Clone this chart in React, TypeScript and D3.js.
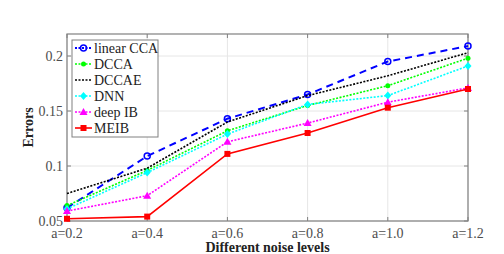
import React from 'react';
import * as d3 from 'd3';

const noiseLevels = ['a=0.2', 'a=0.4', 'a=0.6', 'a=0.8', 'a=1.0', 'a=1.2'];
const linearCCA = [0.062, 0.109, 0.143, 0.165, 0.195, 0.209];
const dcca = [0.064, 0.096, 0.132, 0.155, 0.173, 0.198];
const dccae = [0.075, 0.098, 0.140, 0.164, 0.182, 0.203];
const dnn = [0.061, 0.094, 0.129, 0.156, 0.164, 0.191];
const deepIB = [0.059, 0.073, 0.122, 0.139, 0.158, 0.171];
const meib = [0.052, 0.054, 0.111, 0.130, 0.153, 0.170];
const yTicks = [0.05, 0.1, 0.15, 0.2];

type Series = {
  name: string;
  values: number[];
  color: string;
  dash: string;
  width: number;
  marker: string;
};

const series: Series[] = [
  { name: 'linear CCA', values: linearCCA, color: '#0000ff', dash: '7,5', width: 2, marker: 'circle' },
  { name: 'DCCA', values: dcca, color: '#00ff00', dash: '2,1.5', width: 1.6, marker: 'dot' },
  { name: 'DCCAE', values: dccae, color: '#000000', dash: '2,1.5', width: 1.6, marker: 'none' },
  { name: 'DNN', values: dnn, color: '#00ffff', dash: '2,1.5', width: 1.6, marker: 'diamond' },
  { name: 'deep IB', values: deepIB, color: '#ff00ff', dash: '2,1.5', width: 1.6, marker: 'triangle' },
  { name: 'MEIB', values: meib, color: '#ff0000', dash: '', width: 1.6, marker: 'square' },
];

const W = 504, H = 254;
const left = 67, right = 468, top = 34, bottom = 221;
const serif = { fontFamily: "'Liberation Serif', 'Times New Roman', Times, serif" };

function Marker({ type, x, y, color }: { type: string; x: number; y: number; color: string }) {
  if (type === 'circle') return <circle cx={x} cy={y} r={3} fill="none" stroke={color} strokeWidth={1.5} />;
  if (type === 'dot') return <circle cx={x} cy={y} r={2.5} fill={color} />;
  if (type === 'diamond')
    return <path d={`M${x},${y - 4}L${x + 3.5},${y}L${x},${y + 4}L${x - 3.5},${y}Z`} fill={color} />;
  if (type === 'triangle')
    return <path d={`M${x},${y - 4}L${x + 4},${y + 3}L${x - 4},${y + 3}Z`} fill={color} />;
  if (type === 'square') return <rect x={x - 3} y={y - 3} width={6} height={6} fill={color} />;
  return null;
}

export default function App() {
  const x = d3.scalePoint<string>().domain(noiseLevels).range([left, right]);
  const y = d3.scaleLinear().domain([0.05, 0.22]).range([bottom, top]);
  const line = (vals: number[]) =>
    d3.line<number>().x((_, i) => x(noiseLevels[i])!).y(d => y(d))(vals) || '';

  const legX = 72, legY = 40, legRow = 16;

  return (
    <svg width={W} height={H} style={{ position: 'absolute', left: 0, top: 0, ...serif }}>
      <rect x={0} y={0} width={W} height={H} fill="#fff" />
      {/* grid */}
      {noiseLevels.map(n => (
        <line key={n} x1={x(n)} x2={x(n)} y1={top} y2={bottom} stroke="#e6e6e6" strokeWidth={1} />
      ))}
      {yTicks.map(t => (
        <line key={t} x1={left} x2={right} y1={y(t)} y2={y(t)} stroke="#e6e6e6" strokeWidth={1} />
      ))}
      {/* box */}
      <rect x={left} y={top} width={right - left} height={bottom - top} fill="none" stroke="#808080" strokeWidth={1.2} />
      {noiseLevels.map(n => (
        <g key={'t' + n}>
          <line x1={x(n)} x2={x(n)} y1={bottom} y2={bottom - 4} stroke="#808080" />
          <line x1={x(n)} x2={x(n)} y1={top} y2={top + 4} stroke="#808080" />
          <text x={x(n)} y={238} textAnchor="middle" style={serif} fontSize={14} fill="#4d4d4d">{n}</text>
        </g>
      ))}
      {yTicks.map(t => (
        <g key={'y' + t}>
          <line x1={left} x2={left + 4} y1={y(t)} y2={y(t)} stroke="#808080" />
          <line x1={right} x2={right - 4} y1={y(t)} y2={y(t)} stroke="#808080" />
          <text x={left - 4} y={y(t) + 5} textAnchor="end" style={serif} fontSize={14} fill="#4d4d4d">{t}</text>
        </g>
      ))}
      {/* series */}
      {series.map(s => (
        <g key={s.name}>
          <path d={line(s.values)} fill="none" stroke={s.color} strokeWidth={s.width} strokeDasharray={s.dash} />
          {s.values.map((v, i) => (
            <Marker key={i} type={s.marker} x={x(noiseLevels[i])!} y={y(v)} color={s.color} />
          ))}
        </g>
      ))}
      {/* legend */}
      <rect x={legX} y={legY} width={86} height={97} fill="#fff" stroke="#808080" strokeWidth={1} />
      {series.map((s, i) => {
        const cy = legY + 8 + i * legRow;
        return (
          <g key={'l' + s.name}>
            <line x1={legX + 3} x2={legX + 20} y1={cy} y2={cy} stroke={s.color} strokeWidth={s.width} strokeDasharray={s.dash ? '2,1.5' : ''} />
            <Marker type={s.marker} x={legX + 11.5} y={cy} color={s.color} />
            <text x={legX + 22} y={cy + 5} style={serif} fontSize={14} fill="#222">{s.name}</text>
          </g>
        );
      })}
      {/* axis labels */}
      <text x={(left + right) / 2} y={252} textAnchor="middle" style={serif} fontSize={14} fontWeight="bold" fill="#222">
        Different noise levels
      </text>
      <text transform={`translate(33,${(top + bottom) / 2}) rotate(-90)`} textAnchor="middle" style={serif} fontSize={14} fontWeight="bold" fill="#222">
        Errors
      </text>
    </svg>
  );
}
